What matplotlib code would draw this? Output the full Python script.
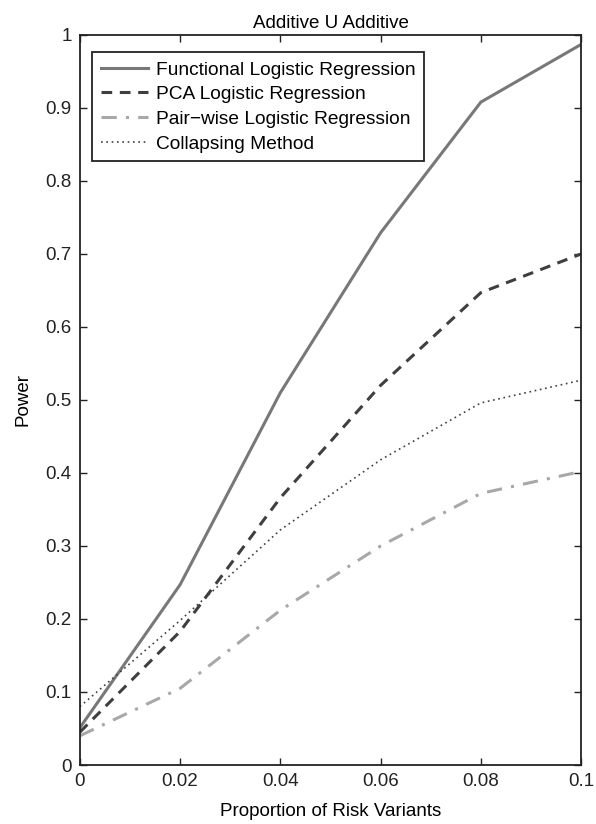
import matplotlib
matplotlib.use('Agg')
import matplotlib.pyplot as plt

plt.rcParams['font.family'] = ['Liberation Sans', 'DejaVu Sans']

prop = [0, 0.02, 0.04, 0.06, 0.08, 0.1]
power_functional = [0.051, 0.247, 0.51, 0.729, 0.908, 0.987]
power_pca = [0.045, 0.183, 0.366, 0.52, 0.647, 0.70]
power_pairwise = [0.040, 0.105, 0.212, 0.30, 0.372, 0.402]
power_collapsing = [0.080, 0.198, 0.322, 0.418, 0.496, 0.527]

fig = plt.figure(figsize=(5.96, 8.24), dpi=100)
ax = fig.add_axes([0.134, 0.0716, 0.841, 0.886])

ax.plot(prop, power_functional, '-', color='#787878', lw=2.2, label='Functional Logistic Regression')
ax.plot(prop, power_pca, '--', color='#3f3f3f', lw=2.2, dashes=(3.5, 2.5), label='PCA Logistic Regression')
ax.plot(prop, power_pairwise, '-.', color='#a8a8a8', lw=2.2, dashes=(5, 3, 1, 3), label='Pair\u2212wise Logistic Regression')
ax.plot(prop, power_collapsing, ':', color='#404040', lw=1.2, dashes=(1, 2.2), label='Collapsing Method')

ax.set_xlim(0, 0.1)
ax.set_ylim(0, 1)
ax.set_xticks([0, 0.02, 0.04, 0.06, 0.08, 0.1])
ax.set_xticklabels(['0', '0.02', '0.04', '0.06', '0.08', '0.1'])
ax.set_yticks([i / 10 for i in range(11)])
ax.set_yticklabels(['0', '0.1', '0.2', '0.3', '0.4', '0.5', '0.6', '0.7', '0.8', '0.9', '1'])
ax.tick_params(direction='in', top=True, right=True, length=5, width=1, labelsize=13.5, pad=6, colors='#222222')
for s in ax.spines.values():
    s.set_linewidth(1.3)
    s.set_color('#222222')

ax.set_title('Additive U Additive', fontsize=13.5, pad=5)
ax.set_xlabel('Proportion of Risk Variants', fontsize=13.5, labelpad=9)
ax.set_ylabel('Power', fontsize=13.5, labelpad=10)

leg = ax.legend(loc='upper left', bbox_to_anchor=(0.024, 0.976), fontsize=13.8, handlelength=2.5,
                handletextpad=0.37, labelspacing=0.38, borderpad=0.45, borderaxespad=0,
                fancybox=False, framealpha=1, edgecolor='#222222')
leg.get_frame().set_linewidth(1.3)

fig.savefig('out.png', dpi=100)
